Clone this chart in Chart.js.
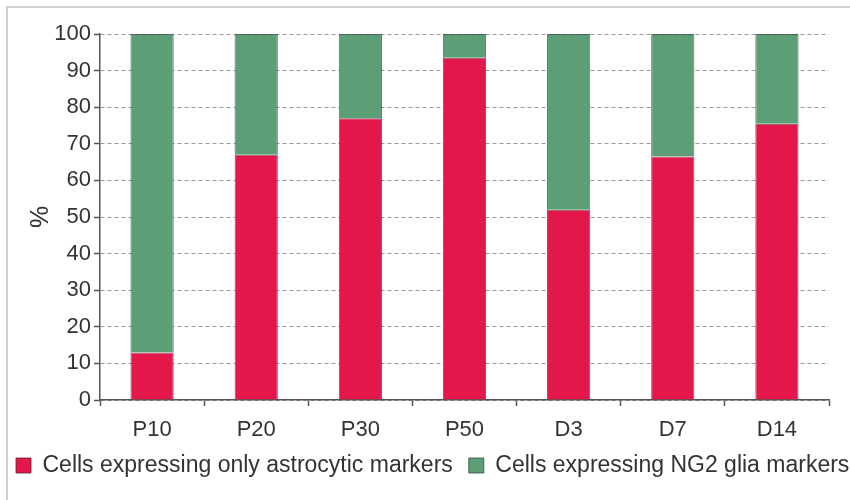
<!DOCTYPE html>
<html>
<head>
<meta charset="utf-8">
<script src="https://cdn.jsdelivr.net/npm/chart.js@4.4.4/dist/chart.umd.min.js"></script>
<style>
  html, body { margin: 0; padding: 0; background: #fff; }
  body { width: 850px; height: 500px; overflow: hidden; position: relative; }
  #frame { position: absolute; left: 6px; top: 6px; width: 900px; height: 520px; border: 2px solid #cfcfcf; }
  #wrap { position: absolute; left: 0; top: 0; width: 900px; height: 500px; }
</style>
</head>
<body>
<div id="frame"></div>
<div id="wrap"><canvas id="chart" width="900" height="500"></canvas></div>
<script>
const categories = ['P10', 'P20', 'P30', 'P50', 'D3', 'D7', 'D14'];
const astrocyticOnly = [13, 67, 77, 93.5, 52, 66.5, 75.5];
const ng2Glia = [87, 33, 23, 6.5, 48, 33.5, 24.5];
const seriesNames = ['Cells expressing only astrocytic markers', 'Cells expressing NG2 glia markers'];

const textColor = '#333';
const axisColor = '#555';
const fontFamily = '"Liberation Sans", Arial, sans-serif';

const data = {
  labels: categories,
  datasets: [
    {
      label: seriesNames[0],
      data: astrocyticOnly,
      backgroundColor: '#e3174a',
      borderColor: 'rgba(90,40,50,0.8)',
      borderWidth: 1,
    },
    {
      label: seriesNames[1],
      data: ng2Glia,
      backgroundColor: '#5c9f77',
      borderColor: 'rgba(50,75,60,0.8)',
      borderWidth: 1,
    },
  ],
};

const options = {
  responsive: false,
  animation: false,
  layout: { padding: { top: 34, bottom: 13, left: 0, right: 0 } },
  datasets: { bar: { categoryPercentage: 1, barPercentage: 0.415 } },
  plugins: {
    tooltip: { enabled: false },
    legend: {
      position: 'bottom',
      align: 'start',
      labels: {
        boxWidth: 15,
        boxHeight: 15,
        padding: 16,
        color: textColor,
        font: { family: fontFamily, size: 23 },
      },
    },
  },
  scales: {
    x: {
      stacked: true,
      afterFit: s => { s.height = 38; },
      grid: { display: true, drawOnChartArea: false, offset: true, tickLength: 6, tickColor: axisColor, tickWidth: 1.5 },
      border: { display: true, color: axisColor, width: 1.5 },
      ticks: { color: textColor, padding: 11, font: { family: fontFamily, size: 22 } },
    },
    y: {
      stacked: true,
      min: 0,
      max: 100,
      afterFit: s => { s.width = 100; },
      ticks: { stepSize: 10, color: textColor, padding: 3, font: { family: fontFamily, size: 22 } },
      grid: { color: '#9a9a9a', lineWidth: 1, tickLength: 6, tickColor: axisColor, tickBorderDash: [], tickWidth: 1.5 },
      border: { display: true, color: axisColor, width: 1.5, dash: [4, 3] },
      title: {
        display: true,
        text: '%',
        color: textColor,
        padding: { top: 26, bottom: 0 },
        font: { family: fontFamily, size: 25 },
      },
    },
    yRight: {
      type: 'linear',
      position: 'right',
      afterFit: s => { s.width = 71; },
      ticks: { display: false },
      grid: { display: false },
      border: { display: false },
    },
  },
};

new Chart(document.getElementById('chart'), { type: 'bar', data, options });
</script>
</body>
</html>
